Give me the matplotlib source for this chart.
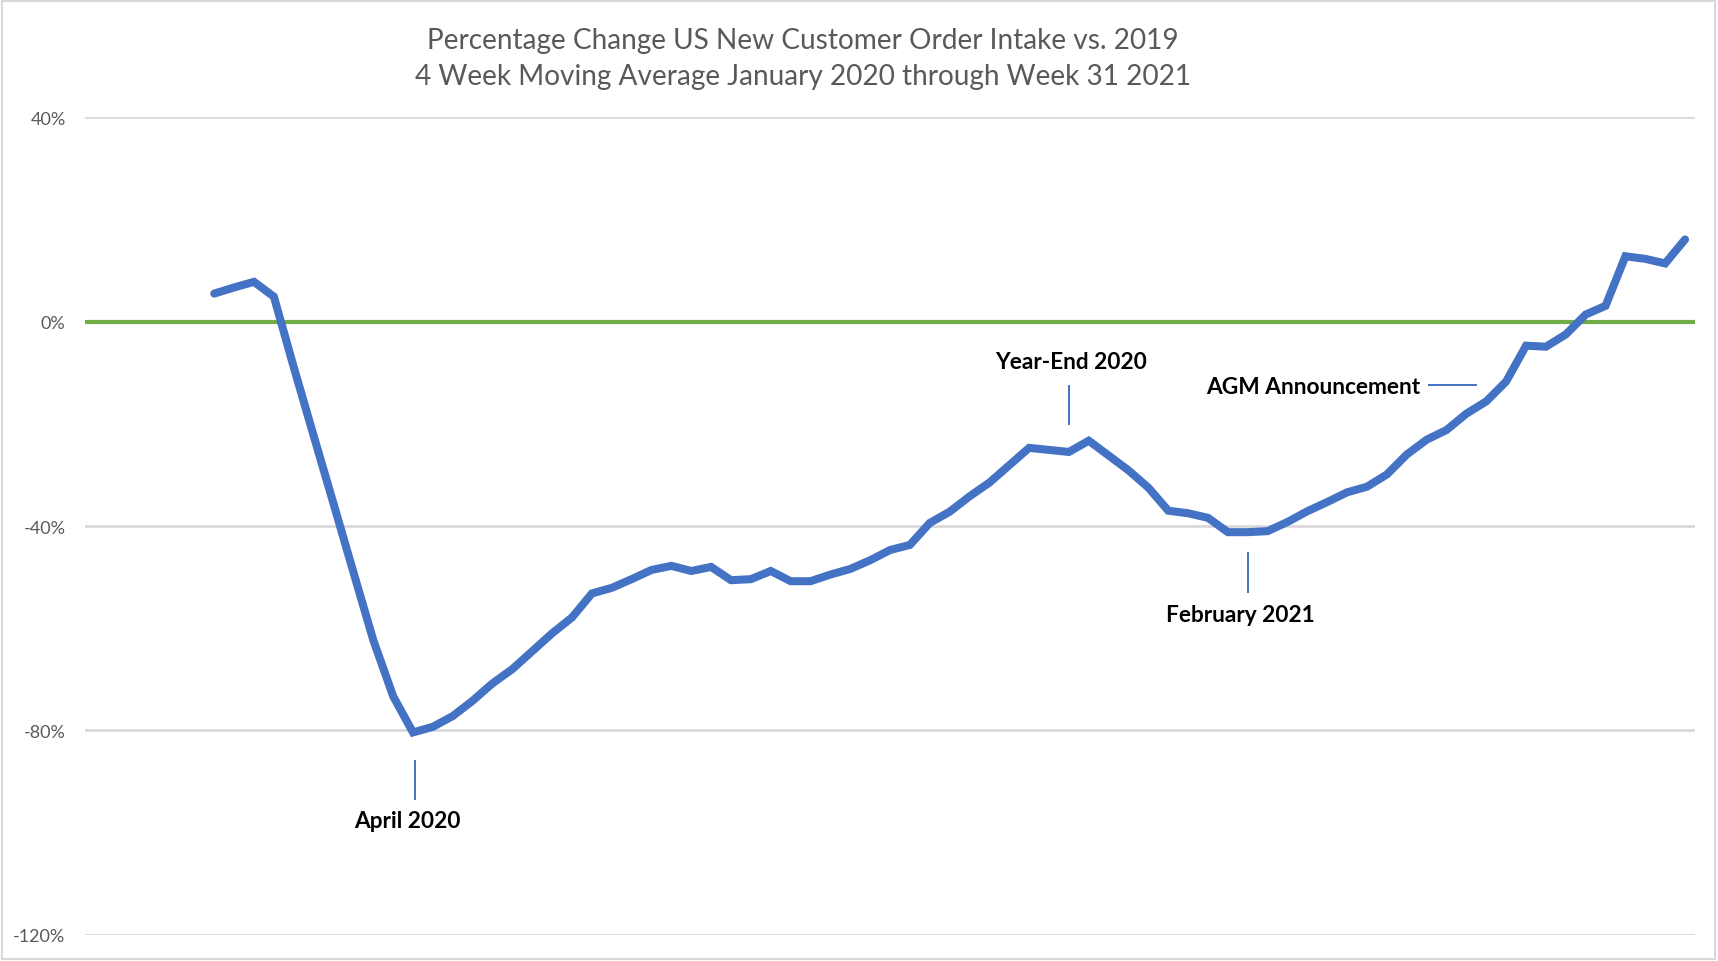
import matplotlib.pyplot as plt
from matplotlib.patches import Rectangle

# 4 week moving average, % change vs 2019, one value per week
weeks = list(range(75))
pct_change = [
    5.5, 6.7, 7.8, 4.9, -8.9, -22.3, -35.6, -49.0, -62.3, -73.3,
    -80.4, -79.3, -77.2, -74.2, -70.8, -68.0, -64.5, -61.0, -57.9, -53.2,
    -52.1, -50.4, -48.6, -47.8, -48.8, -48.0, -50.6, -50.4, -48.8, -50.8,
    -50.8, -49.5, -48.4, -46.7, -44.7, -43.7, -39.4, -37.2, -34.2, -31.5,
    -28.1, -24.7, -25.1, -25.5, -23.3, -26.2, -29.1, -32.5, -37.0, -37.5,
    -38.4, -41.2, -41.2, -41.0, -39.2, -37.1, -35.3, -33.4, -32.3, -29.9,
    -26.0, -23.1, -21.2, -18.0, -15.6, -11.7, -4.7, -4.9, -2.5, 1.4,
    3.1, 12.8, 12.3, 11.4, 16.1,
]
y_ticks = [40, 0, -40, -80, -120]
y_tick_labels = ["40%", "0%", "-40%", "-80%", "-120%"]

title = ("Percentage Change US New Customer Order Intake vs. 2019\n"
         "4 Week Moving Average January 2020 through Week 31 2021")

BLUE = "#4472C4"
GREEN = "#70AD47"
GREY_TXT = "#595959"
GRID = "#D9D9D9"

plt.rcParams['font.family'] = ['Lato', 'DejaVu Sans']

fig = plt.figure(figsize=(17.18, 9.62), dpi=100)
ax = fig.add_axes([0.0495, 0.0273, 0.9371, 0.8497])

ax.set_xlim(-6.5, 74.5)
ax.set_ylim(-120, 40)
ax.set_yticks(y_ticks)
ax.set_yticklabels(y_tick_labels, color=GREY_TXT, fontsize=13)
ax.set_xticks([])
ax.tick_params(axis='y', length=0, pad=14)
for s in ax.spines.values():
    s.set_visible(False)
ax.grid(axis='y', color=GRID, linewidth=2)
ax.set_axisbelow(True)

ax.axhline(0, color=GREEN, linewidth=3, zorder=2)
ax.plot(weeks, pct_change, color=BLUE, linewidth=5.8,
        solid_joinstyle='miter', solid_capstyle='round', zorder=3)

# callouts
lbl = dict(fontsize=16.3, fontweight='bold', color='black', va='center')
ax.plot([10.1, 10.1], [-86.0, -93.5], color=BLUE, lw=1.4)
ax.text(9.7, -97.7, "April 2020", ha='center', **lbl)
ax.plot([43, 43], [-12.6, -20.1], color=BLUE, lw=1.4)
ax.text(43.1, -7.8, "Year-End 2020", ha='center', **lbl)
ax.plot([52, 52], [-45.2, -53.0], color=BLUE, lw=1.4)
ax.text(51.6, -57.3, "February 2021", ha='center', **lbl)
ax.plot([61.1, 63.5], [-12.4, -12.4], color=BLUE, lw=1.4)
ax.text(60.7, -12.6, "AGM Announcement", ha='right', **lbl)

fig.text(0.4674, 0.9385, title, ha='center', va='center', color=GREY_TXT,
         fontsize=20.2, linespacing=1.5)

fig.patches.append(Rectangle((0.001, 0.002), 0.997, 0.996, transform=fig.transFigure,
                             fill=False, edgecolor=GRID, linewidth=1.5))

fig.savefig("out.png", dpi=100)
